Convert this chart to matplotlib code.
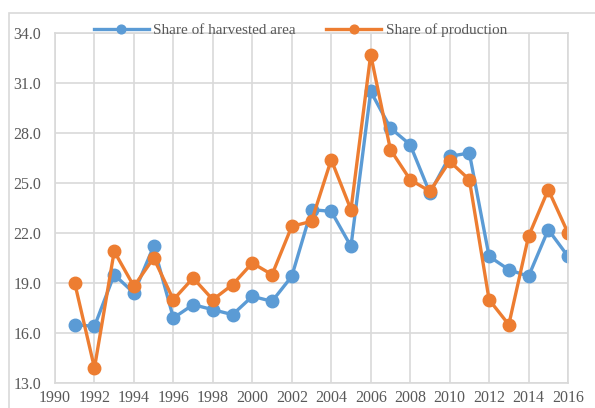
import numpy as np
import matplotlib
matplotlib.use("Agg")
import matplotlib.pyplot as plt
from matplotlib.patches import Rectangle

years = list(range(1991, 2017))
area_share = [16.5, 16.4, 19.5, 18.4, 21.2, 16.9, 17.7, 17.4, 17.1, 18.2,
              17.9, 19.4, 23.4, 23.3, 21.2, 30.5, 28.3, 27.3, 24.4, 26.6,
              26.8, 20.6, 19.8, 19.4, 22.2, 20.6]
prod_share = [19.0, 13.9, 20.9, 18.8, 20.5, 18.0, 19.3, 18.0, 18.9, 20.2,
              19.5, 22.4, 22.7, 26.4, 23.4, 32.7, 27.0, 25.2, 24.5, 26.3,
              25.2, 18.0, 16.5, 21.8, 24.6, 22.0]
yticks = [13.0, 16.0, 19.0, 22.0, 25.0, 28.0, 31.0, 34.0]
xticks = list(range(1990, 2017, 2))

plt.rcParams['font.family'] = ['Liberation Serif', 'DejaVu Serif']
txt = '#595959'
grid = '#D9D9D9'

fig = plt.figure(figsize=(5.95, 4.08), dpi=100)
fig.patches.append(Rectangle((9/595, -0.1), 1.1, 1 - 13/408 + 0.1, transform=fig.transFigure,
                             fill=False, edgecolor=grid, linewidth=1.2))
ax = fig.add_axes([55/595, 1 - 383/408, 513/595, 350/408])

ax.plot(years, area_share, color='#5B9BD5', linewidth=2.4, marker='o', markersize=9,
        label='Share of harvested area')
ax.plot(years, prod_share, color='#ED7D31', linewidth=2.4, marker='o', markersize=9,
        label='Share of production')

ax.set_xlim(1990, 2016)
ax.set_ylim(13, 34)
ax.set_xticks(xticks)
ax.set_yticks(yticks)
ax.set_yticklabels(['%.1f' % v for v in yticks])
ax.grid(True, color=grid, linewidth=1.2)
ax.set_axisbelow(True)
for s in ax.spines.values():
    s.set_color(grid)
    s.set_linewidth(1.2)
ax.tick_params(length=0, labelsize=11.5, colors=txt)
ax.tick_params(axis='y', pad=10)
ax.tick_params(axis='x', pad=5)

fig.legend(loc='center', bbox_to_anchor=(0.505, 1 - 30/408), ncol=2, frameon=False,
           fontsize=11, labelcolor=txt, handlelength=3.6, columnspacing=2.0,
           handletextpad=0.3, borderpad=0, markerscale=0.7)

fig.savefig('out.png', dpi=100)
